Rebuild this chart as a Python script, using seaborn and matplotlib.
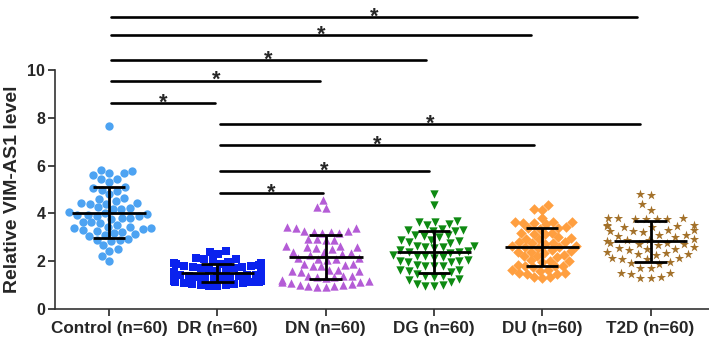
import numpy as np
import pandas as pd
import seaborn as sns
import matplotlib.pyplot as plt

sns.set_style("ticks")
plt.rcParams['font.family'] = ['Liberation Sans', 'DejaVu Sans']
plt.rcParams['font.weight'] = 'bold'

groups = ["Control (n=60)", "DR (n=60)", "DN (n=60)", "DG (n=60)", "DU (n=60)", "T2D (n=60)"]

control = [7.65,
           5.78, 5.67, 5.80, 5.60, 5.70,
           5.45, 5.33, 5.45,
           5.05, 4.98, 4.95, 5.10,
           4.65, 4.62, 4.80,
           4.50, 4.42, 4.38, 3.05, 4.45, 4.40, 3.10,
           4.22, 4.18, 4.25, 3.50, 4.20,
           3.98, 3.92, 3.95, 4.02, 3.90, 4.05, 3.88,
           3.80, 3.78, 3.82, 2.85, 2.95,
           3.62, 3.58, 3.65,
           3.42, 3.38, 3.45, 3.35, 3.40, 3.30,
           3.22, 3.18, 3.25, 3.15,
           2.90, 2.88, 2.68, 2.52, 2.42, 2.20, 2.00]

dr = [2.42, 2.38, 2.30, 2.12, 2.08, 2.10, 2.05,
      1.95, 1.92, 1.90, 1.88, 1.85, 1.93, 1.82,
      1.78, 1.75, 1.72, 1.70, 1.68, 1.74,
      1.62, 1.58, 1.55, 1.60, 1.52, 1.56, 1.50, 1.54,
      1.45, 1.42, 1.40, 1.44, 1.38, 1.46, 1.41,
      1.35, 1.32, 1.30, 1.28, 1.34, 1.31, 1.26,
      1.22, 1.20, 1.18, 1.24, 1.16, 1.21, 1.19,
      1.12, 1.10, 1.08, 1.14, 1.06, 1.11,
      1.04, 1.02, 1.00, 0.98, 0.96]

dn = [4.55, 4.25, 4.22,
      3.45, 3.38, 3.40, 3.22, 3.25, 3.20, 3.18, 3.28, 3.24,
      2.95, 2.90, 2.88, 2.92,
      2.65, 2.60, 2.55, 2.62, 2.58, 2.52,
      2.40, 2.35, 2.30, 2.38, 2.25,
      2.15, 2.10, 2.05, 2.12, 2.08,
      1.90, 1.85, 1.80, 1.88, 1.78,
      1.65, 1.60, 1.58, 1.62, 1.55,
      1.40, 1.35, 1.38, 1.32, 1.36, 1.30,
      1.20, 1.15, 1.10, 1.18, 1.12,
      1.05, 1.00, 0.98, 0.95, 1.02, 0.92, 0.90]

dg = [4.80, 4.35,
      3.70, 3.65, 3.62, 3.55, 3.50,
      3.35, 3.30, 3.28, 3.32, 3.25,
      3.10, 3.05, 3.08, 3.00,
      2.90, 2.85, 2.80, 2.88, 2.75,
      2.65, 2.60, 2.55, 2.62, 2.58,
      2.45, 2.40, 2.42, 2.38, 2.35,
      2.25, 2.20, 2.22, 2.18, 2.15,
      2.05, 2.00, 2.02, 1.98, 1.95,
      1.85, 1.80, 1.78, 1.82,
      1.65, 1.60, 1.62, 1.55,
      1.45, 1.40, 1.38, 1.35,
      1.25, 1.20, 1.15,
      1.05, 1.00, 0.98, 0.95]

du = [4.35, 4.20, 4.15, 3.82,
      3.65, 3.62, 3.60, 3.58, 3.55, 3.62,
      3.40, 3.38, 3.35, 3.42,
      3.20, 3.15, 3.18, 3.12,
      3.00, 2.95, 2.92, 2.98,
      2.80, 2.78, 2.75, 2.82, 2.72,
      2.65, 2.60, 2.62, 2.58, 2.55,
      2.45, 2.42, 2.40, 2.38, 2.35,
      2.25, 2.22, 2.20, 2.18,
      2.05, 2.02, 2.00, 1.98,
      1.85, 1.82, 1.80, 1.78, 1.75,
      1.65, 1.62, 1.60,
      1.50, 1.48, 1.45, 1.52,
      1.35, 1.32, 1.30]

t2d = [4.82, 4.78, 4.38, 4.15,
       3.80, 3.78, 3.82, 3.75, 3.80, 3.78, 3.76,
       3.50, 3.48, 3.45, 3.52, 3.42, 3.46,
       3.30, 3.28, 3.25, 3.22, 3.32,
       3.10, 3.05, 3.08, 3.02,
       2.92, 2.88, 2.85, 2.90,
       2.75, 2.72, 2.70, 2.68, 2.78,
       2.55, 2.52, 2.50, 2.48, 2.58,
       2.35, 2.32, 2.30, 2.28, 2.38,
       2.15, 2.12, 2.10, 2.08,
       1.95, 1.92, 1.90,
       1.72, 1.70,
       1.52, 1.48, 1.50,
       1.32, 1.30, 1.28]

# significant pairs (index into groups)
comparisons = [(0, 1), (0, 2), (0, 3), (0, 4), (0, 5), (1, 2), (1, 3), (1, 4), (1, 5)]

# styling / layout
markers = ["o", "s", "^", "v", "D", "*"]
colors = ["#4DA3F2", "#0A22EE", "#B45CD6", "#0E8A12", "#FF9F40", "#A3712A"]
sizes = [6.0, 5.8, 6.0, 6.0, 5.4, 7.0]
bar_heights = [8.6, 9.55, 10.4, 11.45, 12.2, 4.85, 5.77, 6.86, 7.74]

values = [control, dr, dn, dg, du, t2d]
df = pd.DataFrame({
    "group": np.repeat(groups, [len(v) for v in values]),
    "value": np.concatenate(values),
})

fig = plt.figure(figsize=(7.09, 3.42), dpi=100)
ax = fig.add_axes([55 / 709, 33 / 342, 654 / 709, 309 / 342])

for g, m, c, s in zip(groups, markers, colors, sizes):
    sns.swarmplot(data=df[df.group == g], x="group", y="value", order=groups,
                  marker=m, color=c, size=s, linewidth=0,
                  warn_thresh=1, ax=ax)

# mean +/- SD
for i, g in enumerate(groups):
    v = df.loc[df.group == g, "value"]
    mu, sd = v.mean(), v.std()
    ax.hlines(mu, i - 0.34, i + 0.34, color="black", lw=2, zorder=5)
    ax.vlines(i, mu - sd, mu + sd, color="black", lw=2, zorder=5)
    ax.hlines([mu - sd, mu + sd], i - 0.15, i + 0.15, color="black", lw=2, zorder=5)

# significance bars
for (i, j), h in zip(comparisons, bar_heights):
    x0, x1 = i + 0.02, j - 0.025 * (j - i)
    ax.plot([x0, x1], [h, h], color="black", lw=1.9, clip_on=False, zorder=6)
    ax.text((x0 + x1) / 2, h - 0.22, "*", ha="center", va="baseline",
            fontsize=15.5, fontweight="bold", clip_on=False)

ax.set_xlim(-0.5, 5.54)
ax.set_ylim(0, 12.93)
ax.set_yticks([0, 2, 4, 6, 8, 10])
ax.spines["left"].set_bounds(0, 10)
ax.spines["top"].set_visible(False)
ax.spines["right"].set_visible(False)
for sp in ("left", "bottom"):
    ax.spines[sp].set_linewidth(1.2)
    ax.spines[sp].set_color("#333333")
ax.tick_params(axis="both", direction="out", length=5, width=1.2)
ax.tick_params(axis="x", labelsize=12.3)
ax.tick_params(axis="y", labelsize=11.5, pad=2)
ax.set_xlabel("")
ax.set_ylabel("Relative VIM-AS1 level", fontsize=14, fontweight="bold")
ax.yaxis.set_label_coords(-0.052, 5 / 12.93)
for lab in ax.get_xticklabels() + ax.get_yticklabels():
    lab.set_fontweight("bold")

fig.savefig("out.png", dpi=100)
